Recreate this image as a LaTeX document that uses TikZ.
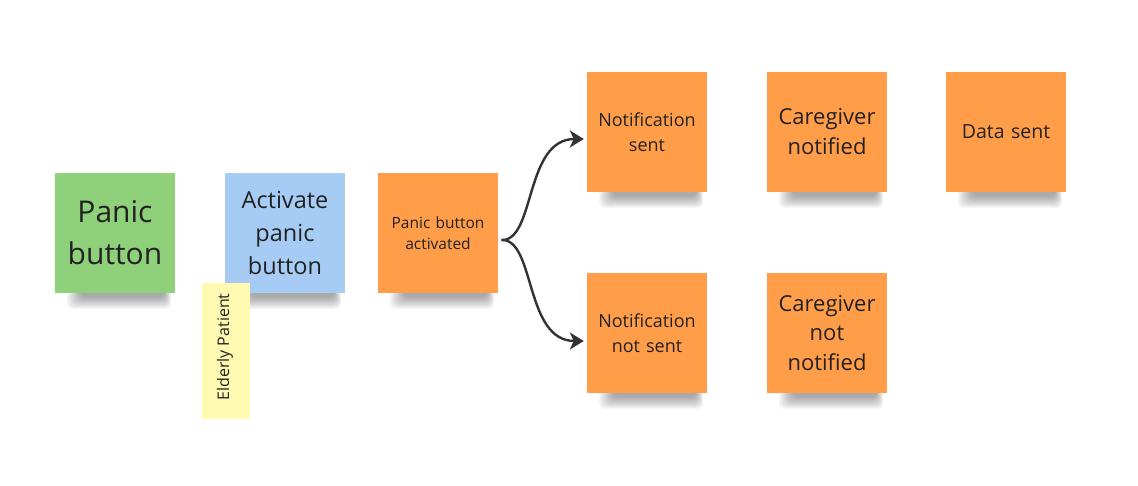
\documentclass[tikz,border=0pt]{standalone}
\usepackage{fontspec}
\setmainfont{Open Sans}
\usetikzlibrary{arrows.meta,calc}

\definecolor{notegreen}{HTML}{8FD07A}
\definecolor{noteblue}{HTML}{A6CCF5}
\definecolor{noteorange}{HTML}{FF9D48}
\definecolor{noteyellow}{HTML}{FFF9B1}
\definecolor{inkdark}{HTML}{222222}
\definecolor{arrowdark}{HTML}{333333}

\pgfdeclarelayer{background}
\pgfsetlayers{background,main}

\tikzset{
  sticky/.style={
    minimum width=120pt, minimum height=120pt, inner sep=0pt,
    text width=112pt, align=center, text=inkdark},
  stickytag/.style={
    minimum width=48pt, minimum height=136pt, inner sep=0pt,
    fill=noteyellow, text=inkdark},
  shadowlayer/.style={black, opacity=0.032, rounded corners=6pt},
  flow/.style={draw=arrowdark, line width=2.4pt, line cap=round,
    -{Stealth[length=14pt, width=17pt, inset=4pt]}},
  fs/.style 2 args={font=\fontsize{#1pt}{#2pt}\selectfont}
}

\begin{document}
\begin{tikzpicture}[x=1pt, y=-1pt]
  \useasboundingbox (0,0) rectangle (1138,485);
  \begin{pgfonlayer}{background}
    \fill[white] (0,0) rectangle (1138,485);
  \end{pgfonlayer}

  % left group
  \node[sticky, fill=notegreen, fs={30}{42}] (panic) at (115,233) {Panic\\button};
  \node[sticky, fill=noteblue, fs={23.5}{33}] (activate) at (285,233) {Activate\\panic\\button};
  \node[stickytag] (patient) at (226,351) {};
  \node[rotate=90, text=inkdark, fs={16}{19}] (patientlbl) at (225,347) {Elderly Patient};

  % event flow
  \node[sticky, fill=noteorange, fs={15.5}{21}] (pba) at (438,233) {Panic button\\activated};
  \node[sticky, fill=noteorange, fs={18}{25}] (ns) at (647,132) {Notification\\sent};
  \node[sticky, fill=noteorange, fs={18}{25}] (nns) at (647,333) {Notification\\not sent};
  \node[sticky, fill=noteorange, fs={22}{30}] (cn) at (827,132) {Caregiver\\notified};
  \node[sticky, fill=noteorange, fs={19.5}{26}] (ds) at (1006,132) {Data sent};
  \node[sticky, fill=noteorange, fs={22}{29.5}] (cnn) at (827,333) {Caregiver\\not\\notified};

  % soft shadows under the square notes, built from stacked translucent bands
  \begin{pgfonlayer}{background}
    \foreach \n in {panic,activate,pba,ns,nns,cn,ds,cnn}{
      \foreach \k in {0,...,11}{
        \fill[shadowlayer]
          ($(\n.south west)+(12+\k*1.3,-4)$) rectangle ($(\n.south east)+(-4-\k*0.6,16-\k*1.1)$);
      }
    }
  \end{pgfonlayer}

  % branching connectors
  \coordinate (fork) at ($(pba.east)+(4,7)$);
  \draw[flow] (fork) .. controls ($(fork)+(33,0)$) and ($(ns.west)+(-62,7)$) .. ($(ns.west)+(-3,7)$);
  \draw[flow] (fork) .. controls ($(fork)+(33,0)$) and ($(nns.west)+(-62,8)$) .. ($(nns.west)+(-3,8)$);
\end{tikzpicture}
\end{document}
